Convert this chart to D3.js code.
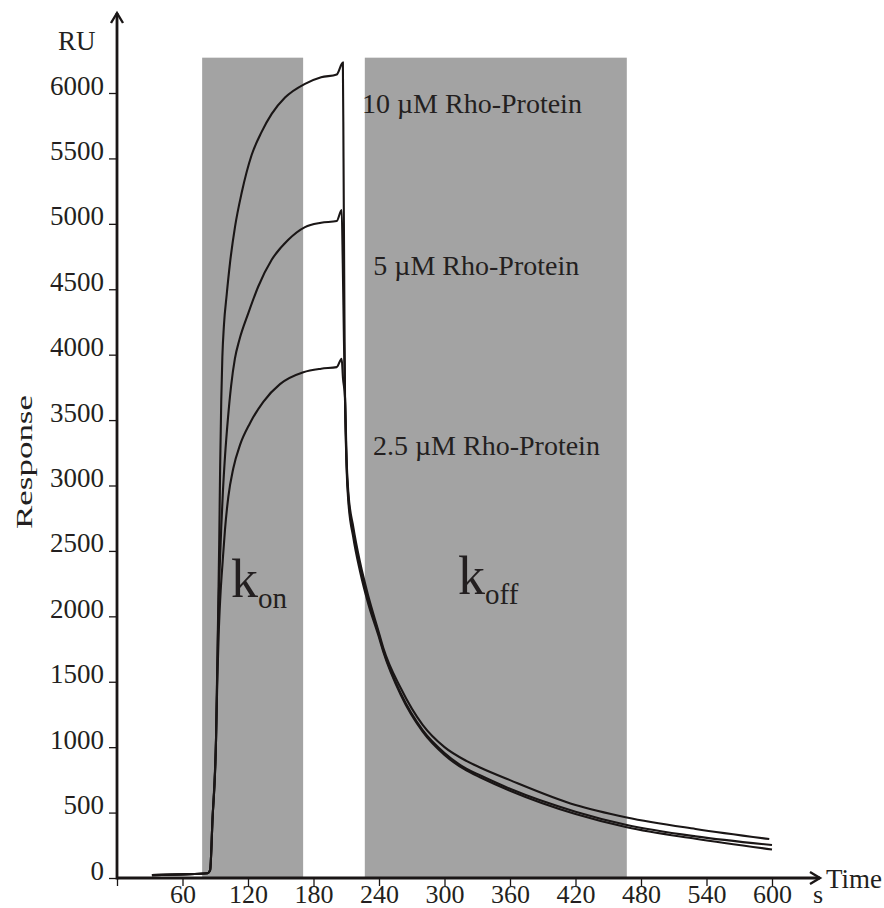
<!DOCTYPE html>
<html>
<head>
<meta charset="utf-8">
<script src="https://cdn.jsdelivr.net/npm/d3@7"></script>
<style>
  html, body { margin: 0; padding: 0; background: #fff; }
  svg { display: block; }
  text { font-family: "Liberation Serif", "Times New Roman", serif; fill: #231f20; }
</style>
</head>
<body>
<svg id="chart" width="884" height="908"></svg>
<script>
// ---- data ----
const xTicks = [0, 60, 120, 180, 240, 300, 360, 420, 480, 540, 600];
const yTicks = [0, 500, 1000, 1500, 2000, 2500, 3000, 3500, 4000, 4500, 5000, 5500, 6000];
const bands = [[78, 170.5], [227, 467]];
const bandTop = 6270;

const seriesNames = ["10 µM Rho-Protein", "5 µM Rho-Protein", "2.5 µM Rho-Protein"];

// common injection start
const baselinePts = [[32, 22], [60, 28], [83, 36], [85.3, 60], [87.5, 450], [90.7, 1055]];

const s10 = [[91.8, 1600], [92.8, 2100], [93.6, 2550], [94.5, 3150], [95.5, 3650], [96.5, 3980], [98, 4230],
  [100.5, 4460], [103.5, 4700], [108.1, 4977], [114.2, 5237], [123.4, 5528], [132.5, 5703], [141.7, 5840],
  [153.9, 5965], [172.2, 6070], [187, 6120], [201.3, 6142],
  [206.9, 6232], [207.5, 5500], [208.2, 4500], [208.9, 3654],
  [210.4, 3145], [211.9, 2913], [216.5, 2638], [222.6, 2380], [230.2, 2125], [239.4, 1873], [243.9, 1743],
  [260, 1410], [280, 1130], [300, 955], [320, 835], [332.5, 785], [360, 682], [420, 507], [467, 405], [530, 318], [600, 252]];

const s5 = [[91.9, 1600], [93, 2080], [94.2, 2400], [95.5, 2680], [97, 2950], [99, 3230], [101.5, 3500],
  [104.5, 3760], [108, 3970], [112, 4110], [120.3, 4317], [129.4, 4521], [141.7, 4725], [156.9, 4878],
  [172.2, 4975], [187, 5008], [201.3, 5022],
  [205.8, 5105], [206.8, 4700], [207.9, 4100], [208.9, 3640],
  [210.4, 3110], [211.9, 2880], [216.5, 2600], [222.6, 2345], [230.2, 2095], [239.4, 1855], [243.9, 1730],
  [260, 1398], [280, 1118], [300, 940], [320, 822], [332.5, 770], [360, 667], [420, 489], [467, 388], [530, 300], [600, 218]];

const s25 = [[92, 1550], [93.3, 1900], [95, 2200], [96.8, 2420], [98.9, 2661], [102, 2915], [106.5, 3130],
  [112.7, 3310], [121.8, 3476], [134, 3640], [149.3, 3775], [170.7, 3866], [187, 3893], [201.3, 3905],
  [205.8, 3968], [207, 3820], [208.9, 3670],
  [210.4, 3180], [211.9, 2950], [216.5, 2680], [222.6, 2415], [230.2, 2155], [239.4, 1890], [243.9, 1760],
  [260, 1450], [280, 1170], [300, 1000], [320, 895], [332.5, 845], [360, 748], [420, 558], [467, 463], [530, 375], [597.5, 298]];

const seriesValues = [baselinePts.concat(s10), baselinePts.concat(s5), baselinePts.concat(s25)];

// label anchors (data space)
const labelPos = [[224.4, 5849], [234.8, 4610], [234.5, 3234]];

// ---- chart ----
const svg = d3.select("#chart");
const x = d3.scaleLinear().domain([0, 600]).range([117, 772]);
const y = d3.scaleLinear().domain([0, 6000]).range([878, 93]);
const ink = "#1a1616";

// bands
svg.append("g").selectAll("rect").data(bands).join("rect")
  .attr("x", d => x(d[0]))
  .attr("width", d => x(d[1]) - x(d[0]))
  .attr("y", y(bandTop))
  .attr("height", y(0) - y(bandTop))
  .attr("fill", "#a3a3a3");

// curves
const line = d3.line().x(d => x(d[0])).y(d => y(d[1])).curve(d3.curveMonotoneX);
svg.append("g").selectAll("path").data(seriesValues).join("path")
  .attr("d", line)
  .attr("fill", "none")
  .attr("stroke", ink)
  .attr("stroke-width", 2.1)
  .attr("stroke-linejoin", "miter");

// x axis
const xAxis = d3.axisBottom(x).tickValues(xTicks).tickSize(8).tickSizeOuter(0)
  .tickFormat(d => d === 0 ? "" : d3.format("d")(d));
const gx = svg.append("g").attr("transform", `translate(0,${y(0)})`).call(xAxis);
gx.select(".domain").remove();
gx.selectAll(".tick line").attr("stroke", ink).attr("stroke-width", 1.3);
gx.selectAll(".tick text").attr("y", 25).attr("dy", 0)
  .style("font-size", "26px").style("font-family", "Liberation Serif").attr("fill", "#231f20");

// y axis
const yAxis = d3.axisLeft(y).tickValues(yTicks).tickSize(8).tickSizeOuter(0).tickFormat(d3.format("d"));
const gy = svg.append("g").attr("transform", `translate(${x(0)},0)`).call(yAxis);
gy.select(".domain").remove();
gy.selectAll(".tick line").attr("stroke", ink).attr("stroke-width", 1.3);
gy.selectAll(".tick text").attr("x", -13).attr("dy", 1)
  .style("font-size", "27px").style("font-family", "Liberation Serif").attr("fill", "#231f20");

// axis lines with arrows
svg.append("line").attr("x1", x(0)).attr("x2", 820).attr("y1", y(0)).attr("y2", y(0))
  .attr("stroke", ink).attr("stroke-width", 2.8);
svg.append("line").attr("x1", x(0)).attr("x2", x(0)).attr("y1", y(0) + 1.4).attr("y2", 13)
  .attr("stroke", ink).attr("stroke-width", 2.8);
svg.append("path").attr("d", `M${x(0) - 6},23 L${x(0)},13 L${x(0) + 6},23`)
  .attr("fill", "none").attr("stroke", ink).attr("stroke-width", 2.4);
svg.append("path").attr("d", `M810,${y(0) - 6} L820,${y(0)} L810,${y(0) + 6}`)
  .attr("fill", "none").attr("stroke", ink).attr("stroke-width", 2.4);

// axis titles
svg.append("text").attr("x", 58).attr("y", 50).style("font-size", "27px").text("RU");
svg.append("text").attr("x", 826).attr("y", 888).style("font-size", "27px").text("Time");
svg.append("text").attr("x", 813).attr("y", 903).style("font-size", "26px").text("s");
svg.append("text")
  .attr("transform", "translate(32,462) rotate(-90)")
  .attr("text-anchor", "middle")
  .attr("textLength", 134)
  .attr("lengthAdjust", "spacingAndGlyphs")
  .style("font-size", "24px")
  .text("Response");

// series labels
svg.append("g").selectAll("text").data(seriesNames).join("text")
  .attr("x", (d, i) => x(labelPos[i][0]))
  .attr("y", (d, i) => y(labelPos[i][1]))
  .style("font-size", "28px")
  .text(d => d);

// k_on / k_off
const kon = svg.append("text").attr("x", 231).attr("y", 597).style("font-size", "54px");
kon.append("tspan").text("k");
kon.append("tspan").attr("dy", 11).style("font-size", "29px").text("on");
const koff = svg.append("text").attr("x", 458).attr("y", 594).style("font-size", "54px");
koff.append("tspan").text("k");
koff.append("tspan").attr("dy", 10).style("font-size", "29px").text("off");
</script>
</body>
</html>
